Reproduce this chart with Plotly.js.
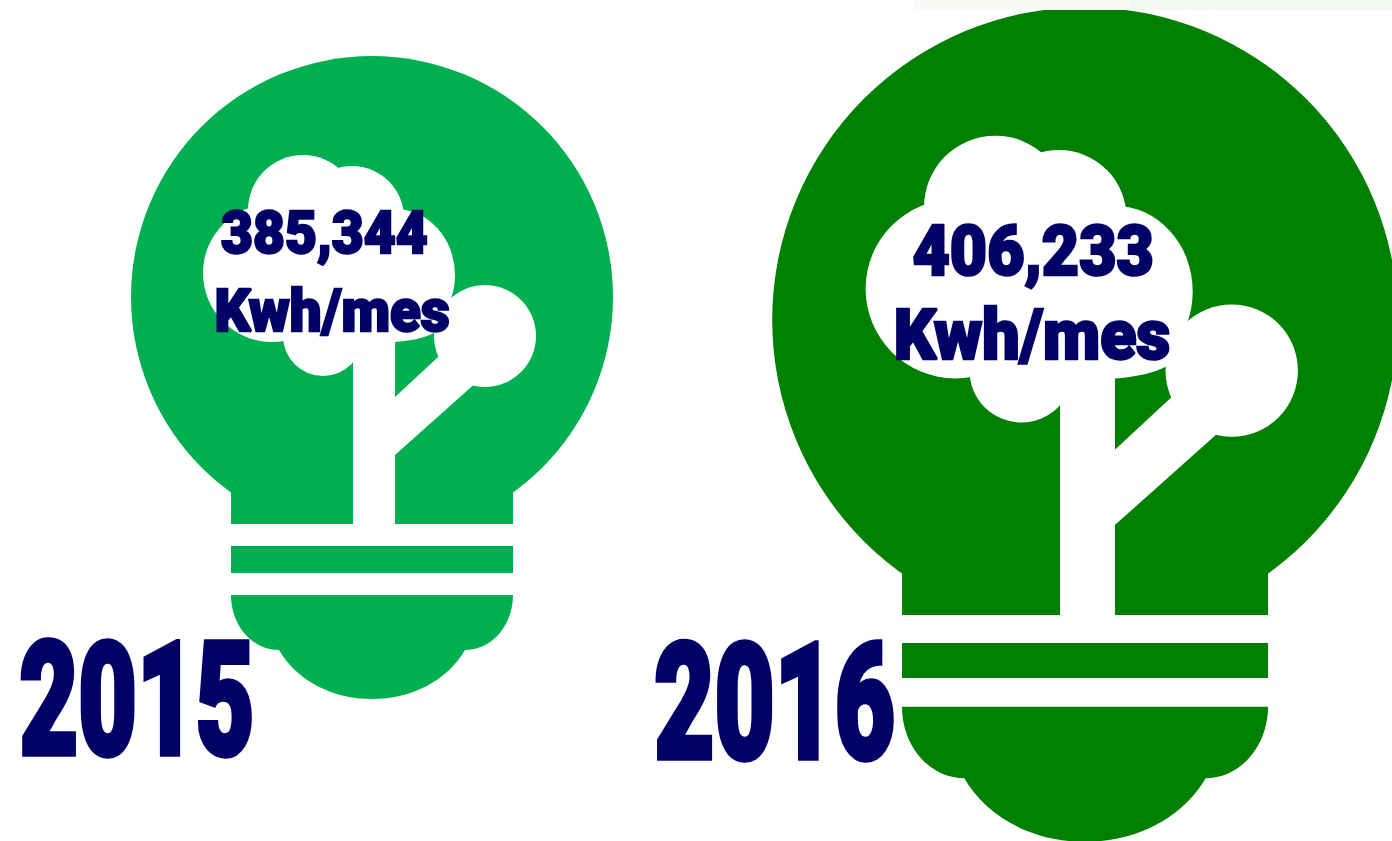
<!DOCTYPE html>
<html>
<head>
<meta charset="utf-8">
<script src="https://cdn.plot.ly/plotly-3.0.1.min.js"></script>
<style>
html,body{margin:0;padding:0;background:#fff;overflow:hidden}
#chart{width:1392px;height:841px}
.annotation text{stroke:#000066;stroke-linejoin:miter;stroke-miterlimit:2;transform-box:fill-box;transform-origin:center}
.annotation[data-index="0"] text,.annotation[data-index="3"] text{stroke-width:5.5px;transform:scaleX(.645)}
.annotation[data-index="1"] text{stroke-width:2.4px;transform:scaleX(.92)}
.annotation[data-index="2"] text{stroke-width:2.4px;transform:scaleX(.94)}
.annotation[data-index="4"] text{stroke-width:2.6px;transform:scaleX(.92)}
.annotation[data-index="5"] text{stroke-width:2.6px;transform:scaleX(.935)}
</style>
</head>
<body>
<div id="chart"></div>
<script>
// Chart content
var years = ["2015", "2016"];
var kwhPerMonth = [385344, 406233];
var unitLabel = "Kwh/mes";

// Styles and placement
var NAVY = "#000066";
var bulbColors = ["#00B050", "#008000"];
var bulbCenterX = [372, 1085];
var bulbCenterY = [297, 320];
var bulbScale = [1, 1.298];
var yearX = [136.5, 774.5], yearY = [700, 703], yearSize = [157, 161];
var valueX = [324, 1033], valueY = [232, 251], valueSize = [60, 70];
var unitX = [332, 1032], unitY = [310, 334], unitSize = [60, 71];

var shapes = [];

function addBulb(i) {
  var s = bulbScale[i], cx = bulbCenterX[i], cy = bulbCenterY[i], col = bulbColors[i];
  function X(v) { return +(cx + (v - 372) * s).toFixed(1); }
  function Y(v) { return +(cy + (v - 297) * s).toFixed(1); }
  function P(x, y) { return X(x) + "," + Y(y); }
  function path(d, fill) {
    shapes.push({type: "path", xref: "x", yref: "y", path: d, fillcolor: fill, line: {width: 0}});
  }
  function circle(x, y, rx, ry, fill) {
    shapes.push({type: "circle", xref: "x", yref: "y", x0: X(x - rx), x1: X(x + rx),
      y0: Y(y - ry), y1: Y(y + ry), fillcolor: fill, line: {width: 0}});
  }
  function rect(x0, y0, x1, y1, fill) {
    shapes.push({type: "rect", xref: "x", yref: "y", x0: Math.round(X(x0)), x1: Math.round(X(x1)),
      y0: Math.round(Y(y0)), y1: Math.round(Y(y1)), fillcolor: fill, line: {width: 0}});
  }
  // glass and neck
  circle(372, 297, 241, 241, col);
  rect(231, 490, 513, 524, col);
  // gap under the neck hides the bottom of the glass circle
  rect(225, 524, 519, 546, "#fff");
  // screw band
  rect(231, 546, 513, 573, col);
  // base
  path("M" + P(231, 595) + " L" + P(513, 595) +
       " C" + P(513, 625) + " " + P(492, 650) + " " + P(465, 650) +
       " C" + P(447, 681) + " " + P(411, 699) + " " + P(372, 699) +
       " C" + P(333, 699) + " " + P(297, 681) + " " + P(279, 650) +
       " C" + P(252, 650) + " " + P(231, 625) + " " + P(231, 595) + " Z", col);
  // tree crown
  circle(303, 210, 55, 55, "#fff");
  circle(352, 218, 52, 52, "#fff");
  circle(272, 273, 69, 69, "#fff");
  circle(395, 275, 60, 66, "#fff");
  circle(323, 336, 40, 40, "#fff");
  rect(272, 205, 395, 341, "#fff");
  path("M" + P(395, 300) + " L" + P(440, 300) + " L" + P(436, 332) +
       " C" + P(425, 338) + " " + P(410, 341) + " " + P(395, 342) + " Z", "#fff");
  // trunk
  rect(353, 330, 395, 525, "#fff");
  // branch and ball
  path("M" + P(395, 397) + " L" + P(440, 355.2) + " L" + P(485, 336) +
       " L" + P(474, 384.4) + " L" + P(395, 455) + " Z", "#fff");
  circle(485, 336, 51, 51, "#fff");
}
addBulb(0);
addBulb(1);

// pale strip along the top edge of the picture
shapes.push({type: "rect", xref: "x", yref: "y", x0: 915, x1: 1130, y0: 0, y1: 10, fillcolor: "#f9fbf7", line: {width: 0}});
shapes.push({type: "rect", xref: "x", yref: "y", x0: 1130, x1: 1392, y0: 0, y1: 10, fillcolor: "#f3f8f1", line: {width: 0}});

function note(text, x, y, size, family) {
  return {text: text, x: x, y: y, xref: "x", yref: "y", xanchor: "center", yanchor: "middle",
    showarrow: false, font: {family: family, size: size, color: NAVY, weight: 900}};
}
var SANS = "Roboto, Liberation Sans, sans-serif";
var annotations = [];
years.forEach(function (yr, i) {
  annotations.push(note(yr, yearX[i], yearY[i], yearSize[i], SANS));
  annotations.push(note(kwhPerMonth[i].toLocaleString("en-US"), valueX[i], valueY[i], valueSize[i], SANS));
  annotations.push(note(unitLabel, unitX[i], unitY[i], unitSize[i], SANS));
});

var layout = {
  width: 1392, height: 841,
  margin: {l: 0, r: 0, t: 0, b: 0, pad: 0},
  paper_bgcolor: "#fff", plot_bgcolor: "#fff",
  showlegend: false,
  xaxis: {range: [0, 1392], visible: false, fixedrange: true},
  yaxis: {range: [841, 0], visible: false, fixedrange: true},
  shapes: shapes,
  annotations: annotations
};
Plotly.newPlot("chart", [], layout, {displayModeBar: false, staticPlot: true});
</script>
</body>
</html>
